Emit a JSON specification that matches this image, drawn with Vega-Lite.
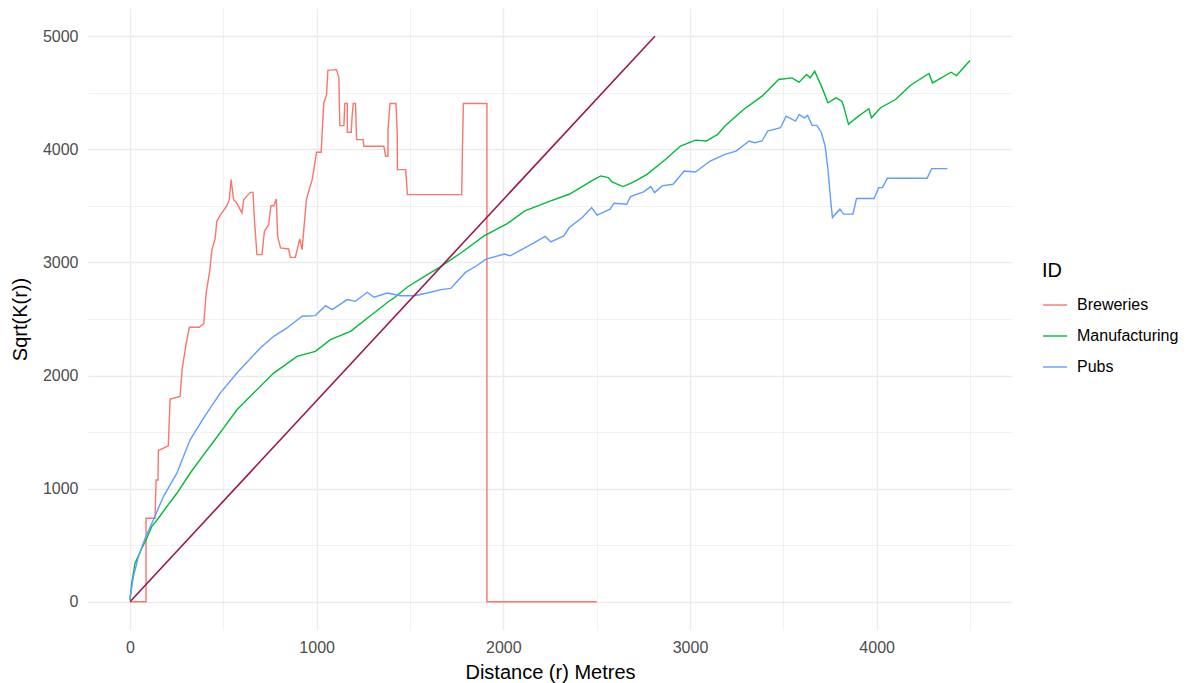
{
  "$schema": "https://vega.github.io/schema/vega-lite/v6.json",
  "width": 924,
  "height": 622,
  "autosize": {"type": "none"},
  "padding": {"left": 88, "top": 8, "right": 176, "bottom": 53},
  "background": "white",
  "config": {
    "view": {"stroke": null},
    "font": "Liberation Sans",
    "axis": {
      "domain": false,
      "ticks": false,
      "gridColor": "#EBEBEB",
      "labelColor": "#4D4D4D",
      "labelFontSize": 16,
      "labelFont": "Liberation Sans",
      "titleFont": "Liberation Sans",
      "titleFontSize": 20,
      "titleColor": "#000000",
      "titleFontWeight": "normal"
    }
  },
  "layer": [
    {
      "data": {
        "values": [
          {"ID": "Breweries", "r": 0, "k": 0},
          {"ID": "Breweries", "r": 86, "k": 0},
          {"ID": "Breweries", "r": 86, "k": 738},
          {"ID": "Breweries", "r": 134, "k": 738},
          {"ID": "Breweries", "r": 140, "k": 1077},
          {"ID": "Breweries", "r": 150, "k": 1077},
          {"ID": "Breweries", "r": 152, "k": 1337},
          {"ID": "Breweries", "r": 205, "k": 1379},
          {"ID": "Breweries", "r": 215, "k": 1792},
          {"ID": "Breweries", "r": 268, "k": 1815},
          {"ID": "Breweries", "r": 280, "k": 2066},
          {"ID": "Breweries", "r": 300, "k": 2273},
          {"ID": "Breweries", "r": 318, "k": 2427},
          {"ID": "Breweries", "r": 371, "k": 2427},
          {"ID": "Breweries", "r": 395, "k": 2459},
          {"ID": "Breweries", "r": 402, "k": 2600},
          {"ID": "Breweries", "r": 408, "k": 2730},
          {"ID": "Breweries", "r": 426, "k": 2913},
          {"ID": "Breweries", "r": 439, "k": 3113},
          {"ID": "Breweries", "r": 456, "k": 3208},
          {"ID": "Breweries", "r": 465, "k": 3364},
          {"ID": "Breweries", "r": 480, "k": 3408},
          {"ID": "Breweries", "r": 519, "k": 3502},
          {"ID": "Breweries", "r": 532, "k": 3555},
          {"ID": "Breweries", "r": 542, "k": 3732},
          {"ID": "Breweries", "r": 555, "k": 3555},
          {"ID": "Breweries", "r": 569, "k": 3532},
          {"ID": "Breweries", "r": 600, "k": 3438},
          {"ID": "Breweries", "r": 609, "k": 3555},
          {"ID": "Breweries", "r": 644, "k": 3620},
          {"ID": "Breweries", "r": 659, "k": 3620},
          {"ID": "Breweries", "r": 666, "k": 3393},
          {"ID": "Breweries", "r": 680, "k": 3069},
          {"ID": "Breweries", "r": 707, "k": 3069},
          {"ID": "Breweries", "r": 720, "k": 3275},
          {"ID": "Breweries", "r": 743, "k": 3334},
          {"ID": "Breweries", "r": 755, "k": 3502},
          {"ID": "Breweries", "r": 770, "k": 3502},
          {"ID": "Breweries", "r": 784, "k": 3561},
          {"ID": "Breweries", "r": 791, "k": 3231},
          {"ID": "Breweries", "r": 806, "k": 3128},
          {"ID": "Breweries", "r": 850, "k": 3119},
          {"ID": "Breweries", "r": 859, "k": 3045},
          {"ID": "Breweries", "r": 886, "k": 3045},
          {"ID": "Breweries", "r": 909, "k": 3208},
          {"ID": "Breweries", "r": 922, "k": 3113},
          {"ID": "Breweries", "r": 931, "k": 3290},
          {"ID": "Breweries", "r": 945, "k": 3555},
          {"ID": "Breweries", "r": 963, "k": 3659},
          {"ID": "Breweries", "r": 976, "k": 3732},
          {"ID": "Breweries", "r": 985, "k": 3821},
          {"ID": "Breweries", "r": 999, "k": 3974},
          {"ID": "Breweries", "r": 1024, "k": 3974},
          {"ID": "Breweries", "r": 1038, "k": 4410},
          {"ID": "Breweries", "r": 1053, "k": 4484},
          {"ID": "Breweries", "r": 1060, "k": 4699},
          {"ID": "Breweries", "r": 1106, "k": 4705},
          {"ID": "Breweries", "r": 1119, "k": 4632},
          {"ID": "Breweries", "r": 1124, "k": 4210},
          {"ID": "Breweries", "r": 1146, "k": 4210},
          {"ID": "Breweries", "r": 1151, "k": 4405},
          {"ID": "Breweries", "r": 1164, "k": 4405},
          {"ID": "Breweries", "r": 1164, "k": 4151},
          {"ID": "Breweries", "r": 1185, "k": 4151},
          {"ID": "Breweries", "r": 1190, "k": 4293},
          {"ID": "Breweries", "r": 1196, "k": 4405},
          {"ID": "Breweries", "r": 1208, "k": 4405},
          {"ID": "Breweries", "r": 1214, "k": 4086},
          {"ID": "Breweries", "r": 1249, "k": 4086},
          {"ID": "Breweries", "r": 1253, "k": 4027},
          {"ID": "Breweries", "r": 1360, "k": 4027},
          {"ID": "Breweries", "r": 1369, "k": 3939},
          {"ID": "Breweries", "r": 1382, "k": 3939},
          {"ID": "Breweries", "r": 1382, "k": 4175},
          {"ID": "Breweries", "r": 1393, "k": 4405},
          {"ID": "Breweries", "r": 1425, "k": 4405},
          {"ID": "Breweries", "r": 1432, "k": 4116},
          {"ID": "Breweries", "r": 1432, "k": 3821},
          {"ID": "Breweries", "r": 1477, "k": 3821},
          {"ID": "Breweries", "r": 1486, "k": 3600},
          {"ID": "Breweries", "r": 1777, "k": 3600},
          {"ID": "Breweries", "r": 1781, "k": 4004},
          {"ID": "Breweries", "r": 1786, "k": 4405},
          {"ID": "Breweries", "r": 1912, "k": 4405},
          {"ID": "Breweries", "r": 1912, "k": 0},
          {"ID": "Breweries", "r": 2500, "k": 0},
          {"ID": "Manufacturing", "r": 0, "k": 15},
          {"ID": "Manufacturing", "r": 9, "k": 162},
          {"ID": "Manufacturing", "r": 27, "k": 339},
          {"ID": "Manufacturing", "r": 63, "k": 472},
          {"ID": "Manufacturing", "r": 90, "k": 561},
          {"ID": "Manufacturing", "r": 116, "k": 664},
          {"ID": "Manufacturing", "r": 152, "k": 738},
          {"ID": "Manufacturing", "r": 197, "k": 841},
          {"ID": "Manufacturing", "r": 251, "k": 959},
          {"ID": "Manufacturing", "r": 322, "k": 1136},
          {"ID": "Manufacturing", "r": 394, "k": 1299},
          {"ID": "Manufacturing", "r": 448, "k": 1417},
          {"ID": "Manufacturing", "r": 501, "k": 1535},
          {"ID": "Manufacturing", "r": 573, "k": 1697},
          {"ID": "Manufacturing", "r": 662, "k": 1845},
          {"ID": "Manufacturing", "r": 770, "k": 2022},
          {"ID": "Manufacturing", "r": 895, "k": 2170},
          {"ID": "Manufacturing", "r": 993, "k": 2214},
          {"ID": "Manufacturing", "r": 1074, "k": 2317},
          {"ID": "Manufacturing", "r": 1181, "k": 2391},
          {"ID": "Manufacturing", "r": 1307, "k": 2553},
          {"ID": "Manufacturing", "r": 1387, "k": 2657},
          {"ID": "Manufacturing", "r": 1414, "k": 2686},
          {"ID": "Manufacturing", "r": 1486, "k": 2783},
          {"ID": "Manufacturing", "r": 1593, "k": 2892},
          {"ID": "Manufacturing", "r": 1658, "k": 2956},
          {"ID": "Manufacturing", "r": 1778, "k": 3090},
          {"ID": "Manufacturing", "r": 1897, "k": 3235},
          {"ID": "Manufacturing", "r": 2016, "k": 3338},
          {"ID": "Manufacturing", "r": 2115, "k": 3456},
          {"ID": "Manufacturing", "r": 2254, "k": 3544},
          {"ID": "Manufacturing", "r": 2353, "k": 3603},
          {"ID": "Manufacturing", "r": 2473, "k": 3721},
          {"ID": "Manufacturing", "r": 2522, "k": 3765},
          {"ID": "Manufacturing", "r": 2562, "k": 3750},
          {"ID": "Manufacturing", "r": 2582, "k": 3712},
          {"ID": "Manufacturing", "r": 2641, "k": 3671},
          {"ID": "Manufacturing", "r": 2691, "k": 3706},
          {"ID": "Manufacturing", "r": 2770, "k": 3779},
          {"ID": "Manufacturing", "r": 2870, "k": 3912},
          {"ID": "Manufacturing", "r": 2949, "k": 4029},
          {"ID": "Manufacturing", "r": 3029, "k": 4082},
          {"ID": "Manufacturing", "r": 3088, "k": 4074},
          {"ID": "Manufacturing", "r": 3148, "k": 4132},
          {"ID": "Manufacturing", "r": 3187, "k": 4206},
          {"ID": "Manufacturing", "r": 3287, "k": 4353},
          {"ID": "Manufacturing", "r": 3386, "k": 4471},
          {"ID": "Manufacturing", "r": 3475, "k": 4618},
          {"ID": "Manufacturing", "r": 3545, "k": 4632},
          {"ID": "Manufacturing", "r": 3585, "k": 4594},
          {"ID": "Manufacturing", "r": 3624, "k": 4662},
          {"ID": "Manufacturing", "r": 3644, "k": 4632},
          {"ID": "Manufacturing", "r": 3668, "k": 4691},
          {"ID": "Manufacturing", "r": 3704, "k": 4559},
          {"ID": "Manufacturing", "r": 3739, "k": 4412},
          {"ID": "Manufacturing", "r": 3783, "k": 4456},
          {"ID": "Manufacturing", "r": 3813, "k": 4426},
          {"ID": "Manufacturing", "r": 3823, "k": 4382},
          {"ID": "Manufacturing", "r": 3849, "k": 4221},
          {"ID": "Manufacturing", "r": 3902, "k": 4294},
          {"ID": "Manufacturing", "r": 3958, "k": 4359},
          {"ID": "Manufacturing", "r": 3972, "k": 4279},
          {"ID": "Manufacturing", "r": 4021, "k": 4368},
          {"ID": "Manufacturing", "r": 4101, "k": 4441},
          {"ID": "Manufacturing", "r": 4180, "k": 4565},
          {"ID": "Manufacturing", "r": 4280, "k": 4671},
          {"ID": "Manufacturing", "r": 4299, "k": 4588},
          {"ID": "Manufacturing", "r": 4399, "k": 4682},
          {"ID": "Manufacturing", "r": 4428, "k": 4653},
          {"ID": "Manufacturing", "r": 4500, "k": 4785},
          {"ID": "Pubs", "r": 0, "k": 30},
          {"ID": "Pubs", "r": 18, "k": 221},
          {"ID": "Pubs", "r": 45, "k": 399},
          {"ID": "Pubs", "r": 81, "k": 561},
          {"ID": "Pubs", "r": 125, "k": 723},
          {"ID": "Pubs", "r": 179, "k": 930},
          {"ID": "Pubs", "r": 251, "k": 1137},
          {"ID": "Pubs", "r": 322, "k": 1432},
          {"ID": "Pubs", "r": 394, "k": 1624},
          {"ID": "Pubs", "r": 483, "k": 1845},
          {"ID": "Pubs", "r": 573, "k": 2022},
          {"ID": "Pubs", "r": 698, "k": 2244},
          {"ID": "Pubs", "r": 770, "k": 2347},
          {"ID": "Pubs", "r": 841, "k": 2421},
          {"ID": "Pubs", "r": 922, "k": 2524},
          {"ID": "Pubs", "r": 993, "k": 2530},
          {"ID": "Pubs", "r": 1047, "k": 2618},
          {"ID": "Pubs", "r": 1083, "k": 2583},
          {"ID": "Pubs", "r": 1164, "k": 2672},
          {"ID": "Pubs", "r": 1208, "k": 2656},
          {"ID": "Pubs", "r": 1271, "k": 2736},
          {"ID": "Pubs", "r": 1307, "k": 2692},
          {"ID": "Pubs", "r": 1378, "k": 2730},
          {"ID": "Pubs", "r": 1450, "k": 2706},
          {"ID": "Pubs", "r": 1522, "k": 2706},
          {"ID": "Pubs", "r": 1593, "k": 2730},
          {"ID": "Pubs", "r": 1665, "k": 2760},
          {"ID": "Pubs", "r": 1718, "k": 2771},
          {"ID": "Pubs", "r": 1797, "k": 2912},
          {"ID": "Pubs", "r": 1857, "k": 2971},
          {"ID": "Pubs", "r": 1907, "k": 3030},
          {"ID": "Pubs", "r": 2006, "k": 3074},
          {"ID": "Pubs", "r": 2036, "k": 3059},
          {"ID": "Pubs", "r": 2135, "k": 3147},
          {"ID": "Pubs", "r": 2224, "k": 3230},
          {"ID": "Pubs", "r": 2254, "k": 3182},
          {"ID": "Pubs", "r": 2324, "k": 3235},
          {"ID": "Pubs", "r": 2353, "k": 3309},
          {"ID": "Pubs", "r": 2423, "k": 3397},
          {"ID": "Pubs", "r": 2473, "k": 3485},
          {"ID": "Pubs", "r": 2502, "k": 3418},
          {"ID": "Pubs", "r": 2572, "k": 3471},
          {"ID": "Pubs", "r": 2592, "k": 3524},
          {"ID": "Pubs", "r": 2661, "k": 3515},
          {"ID": "Pubs", "r": 2681, "k": 3582},
          {"ID": "Pubs", "r": 2751, "k": 3624},
          {"ID": "Pubs", "r": 2790, "k": 3671},
          {"ID": "Pubs", "r": 2810, "k": 3618},
          {"ID": "Pubs", "r": 2850, "k": 3677},
          {"ID": "Pubs", "r": 2909, "k": 3691},
          {"ID": "Pubs", "r": 2969, "k": 3809},
          {"ID": "Pubs", "r": 3029, "k": 3800},
          {"ID": "Pubs", "r": 3108, "k": 3897},
          {"ID": "Pubs", "r": 3187, "k": 3956},
          {"ID": "Pubs", "r": 3247, "k": 3985},
          {"ID": "Pubs", "r": 3317, "k": 4074},
          {"ID": "Pubs", "r": 3346, "k": 4059},
          {"ID": "Pubs", "r": 3386, "k": 4074},
          {"ID": "Pubs", "r": 3416, "k": 4162},
          {"ID": "Pubs", "r": 3485, "k": 4191},
          {"ID": "Pubs", "r": 3515, "k": 4294},
          {"ID": "Pubs", "r": 3565, "k": 4250},
          {"ID": "Pubs", "r": 3585, "k": 4309},
          {"ID": "Pubs", "r": 3614, "k": 4279},
          {"ID": "Pubs", "r": 3630, "k": 4300},
          {"ID": "Pubs", "r": 3654, "k": 4212},
          {"ID": "Pubs", "r": 3680, "k": 4212},
          {"ID": "Pubs", "r": 3704, "k": 4147},
          {"ID": "Pubs", "r": 3724, "k": 4029},
          {"ID": "Pubs", "r": 3739, "k": 3824},
          {"ID": "Pubs", "r": 3753, "k": 3559},
          {"ID": "Pubs", "r": 3763, "k": 3397},
          {"ID": "Pubs", "r": 3803, "k": 3471},
          {"ID": "Pubs", "r": 3823, "k": 3427},
          {"ID": "Pubs", "r": 3873, "k": 3427},
          {"ID": "Pubs", "r": 3892, "k": 3565},
          {"ID": "Pubs", "r": 3986, "k": 3565},
          {"ID": "Pubs", "r": 4011, "k": 3662},
          {"ID": "Pubs", "r": 4031, "k": 3662},
          {"ID": "Pubs", "r": 4057, "k": 3744},
          {"ID": "Pubs", "r": 4270, "k": 3744},
          {"ID": "Pubs", "r": 4295, "k": 3830},
          {"ID": "Pubs", "r": 4379, "k": 3830}
        ]
      },
      "mark": {"type": "line", "strokeWidth": 1.4},
      "encoding": {
        "x": {
          "field": "r",
          "type": "quantitative",
          "scale": {"domain": [-225, 4725], "nice": false, "zero": false},
          "axis": {
            "title": "Distance (r) Metres",
            "values": [0, 500, 1000, 1500, 2000, 2500, 3000, 3500, 4000, 4500],
            "format": "d",
            "labelExpr": "datum.value % 1000 === 0 ? datum.label : ''",
            "gridWidth": {"condition": {"test": "datum.value % 1000 === 0", "value": 1.4}, "value": 0.7},
            "labelPadding": 9,
            "titlePadding": 7
          }
        },
        "y": {
          "field": "k",
          "type": "quantitative",
          "scale": {"domain": [-250, 5250], "nice": false, "zero": false},
          "axis": {
            "title": "Sqrt(K(r))",
            "values": [0, 500, 1000, 1500, 2000, 2500, 3000, 3500, 4000, 4500, 5000],
            "format": "d",
            "labelExpr": "datum.value % 1000 === 0 ? datum.label : ''",
            "gridWidth": {"condition": {"test": "datum.value % 1000 === 0", "value": 1.4}, "value": 0.7},
            "labelPadding": 10,
            "titlePadding": 12
          }
        },
        "color": {
          "field": "ID",
          "type": "nominal",
          "scale": {"domain": ["Breweries", "Manufacturing", "Pubs"], "range": ["#F8766D", "#00BA38", "#619CFF"]},
          "legend": {
            "orient": "none",
            "legendX": 954,
            "legendY": 253,
            "title": "ID",
            "titleFontSize": 20,
            "titleFontWeight": "normal",
            "titleColor": "#000000",
            "titleFont": "Liberation Sans",
            "titlePadding": 11,
            "labelFont": "Liberation Sans",
            "labelFontSize": 16,
            "labelColor": "#000000",
            "symbolType": "stroke",
            "symbolSize": 576,
            "symbolStrokeWidth": 1.4,
            "rowPadding": 10,
            "labelOffset": 9,
            "padding": 0
          }
        },
        "order": {"value": null}
      }
    },
    {
      "data": {"values": [{"r": 0, "k": 0}, {"r": 2812, "k": 5000}]},
      "mark": {"type": "line", "color": "#961A50", "strokeWidth": 1.6},
      "encoding": {
        "x": {"field": "r", "type": "quantitative"},
        "y": {"field": "k", "type": "quantitative"}
      }
    }
  ]
}
